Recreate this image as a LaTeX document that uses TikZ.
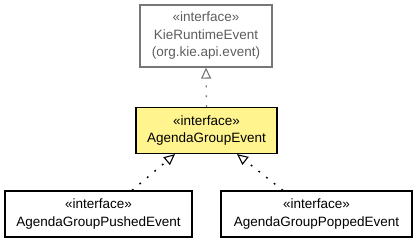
\documentclass[tikz,border=0pt]{standalone}
\usepackage{fontspec}
\setmainfont{Liberation Sans}
\usetikzlibrary{positioning, arrows.meta}
\usepackage{xcolor}
\definecolor{noteyellow}{HTML}{FFF48E}
\definecolor{greyline}{HTML}{777777}
\definecolor{greytext}{HTML}{5E5E5E}

\begin{document}
\begin{tikzpicture}[x=1pt, y=-1pt,
        iface/.style={draw, line width=1.2pt, align=center, inner sep=0pt,
            font=\fontsize{13.5}{17.5}\selectfont},
        realize/.style={dash pattern=on 1.8pt off 8pt, line width=1.4pt,
            -{Triangle[open, length=11pt, width=10pt, line width=1.1pt]}}]
        \useasboundingbox (0,0) rectangle (416,243);

        % Parent interface
        \node[iface, draw=greyline, text=greytext, minimum width=132pt, minimum height=62pt]
            (kre) at (206,36) {«interface»\\KieRuntimeEvent\\(org.kie.api.event)};

        % Current interface
        \node[iface, fill=noteyellow, minimum width=141pt, minimum height=46pt]
            (age) at (206.5,130.5) {«interface»\\AgendaGroupEvent};

        % Sub interfaces
        \node[iface, minimum width=187pt, minimum height=46pt]
            (pushed) at (98.5,214) {«interface»\\AgendaGroupPushedEvent};
        \node[iface, minimum width=191pt, minimum height=46pt]
            (popped) at (316.5,214) {«interface»\\AgendaGroupPoppedEvent};

        % Realizations
        \draw[realize, greyline] (age.north) -- (kre.south);
        \draw[realize] (pushed.north -| 132,0) -- (age.south -| 175,0);
        \draw[realize] (popped.north -| 283,0) -- (age.south -| 237,0);
    \end{tikzpicture}
\end{document}
